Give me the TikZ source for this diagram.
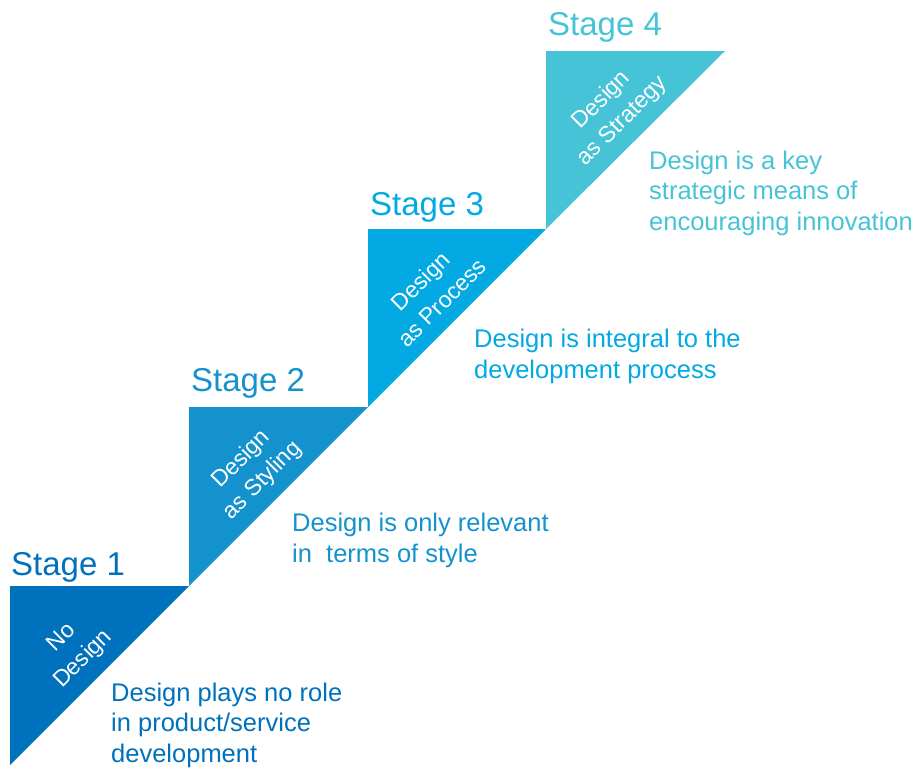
\documentclass[tikz,border=0pt]{standalone}
\usepackage{fontspec}
\setmainfont{Liberation Sans}
\definecolor{stepA}{RGB}{0,113,188}
\definecolor{stepB}{RGB}{20,146,206}
\definecolor{stepC}{RGB}{2,169,226}
\definecolor{stepD}{RGB}{70,195,214}
\begin{document}
\begin{tikzpicture}[x=1pt, y=-1pt, line join=round,
	stagetitle/.style={anchor=base west, inner sep=0pt, font=\fontsize{33}{40}\selectfont},
	steplabel/.style={white, rotate=45, align=center, inner sep=0pt, font=\fontsize{23}{30}\selectfont},
	stepnote/.style={anchor=base west, inner sep=0pt, align=left, font=\fontsize{25.5}{30.5}\selectfont}
	]
	\useasboundingbox (0,0) rectangle (916,769);
	%	\draw[gray!10] (0,0) grid[step=50] (916,769);
	% the four steps
	\fill[stepA] (10,586)--(189,586)--(10,765)--cycle;
	\fill[stepB] (189,407)--(368,407)--(189,586)--cycle;
	\fill[stepC] (368,229)--(546,229)--(368,407)--cycle;
	\fill[stepD] (546,51)--(725,51)--(546,229)--cycle;
	% titles
	\node[stagetitle, stepA] (stage1) at (11,575) {Stage 1};
	\node[stagetitle, stepB] (stage2) at (191,391) {Stage 2};
	\node[stagetitle, stepC] (stage3) at (370,215) {Stage 3};
	\node[stagetitle, stepD] (stage4) at (548,35) {Stage 4};
	% labels on the steps
	\node[steplabel] (nodesign) at (73,649) {No\\Design};
	\node[steplabel] (styling) at (252,470) {Design\\as Styling};
	\node[steplabel] (process) at (431,292) {Design\\as Process};
	\node[steplabel] (strategy) at (612,111) {Design\\as Strategy};
	% notes (placed by their last line)
	\node[stepnote, stepA] (note1) at (111,762) {Design plays no role\\in product/service\\development};
	\node[stepnote, stepB] (note2) at (292,562) {Design is only relevant\\in\ \ terms of style};
	\node[stepnote, stepC] (note3) at (474,378) {Design is integral to the\\development process};
	\node[stepnote, stepD] (note4) at (649,230) {Design is a key\\strategic means of\\encouraging innovation};
\end{tikzpicture}
\end{document}
